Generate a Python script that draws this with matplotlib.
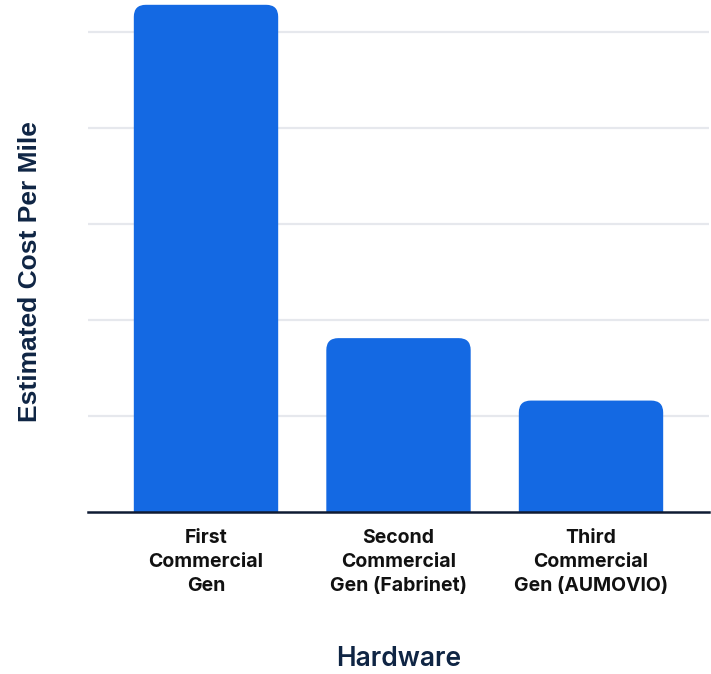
import matplotlib
matplotlib.use("Agg")
import matplotlib.pyplot as plt
from matplotlib.path import Path
from matplotlib.patches import PathPatch

# cost per mile, in gridline units
categories = ["First\nCommercial\nGen", "Second\nCommercial\nGen (Fabrinet)", "Third\nCommercial\nGen (AUMOVIO)"]
cost_per_mile = [5.28, 1.81, 1.16]
grid_ticks = [1, 2, 3, 4, 5]

BAR_COLOR = "#1469E3"
NAVY = "#0F2544"
W, H, DPI = 711, 674, 100


def rounded_top_bar(ax, x, width, height, rx, ry, color):
    left, right = x - width / 2, x + width / 2
    verts = [
        (left, 0), (left, height - ry),
        (left, height), (left + rx, height),
        (right - rx, height),
        (right, height), (right, height - ry),
        (right, 0), (left, 0),
    ]
    codes = [Path.MOVETO, Path.LINETO, Path.CURVE3, Path.CURVE3, Path.LINETO,
             Path.CURVE3, Path.CURVE3, Path.LINETO, Path.CLOSEPOLY]
    ax.add_patch(PathPatch(Path(verts, codes), facecolor=color, edgecolor="none", zorder=2))


fig = plt.figure(figsize=(W / DPI, H / DPI), dpi=DPI)
ax_left, ax_right, ax_top, ax_bottom = 88, 709, 0, 512
ax = fig.add_axes([ax_left / W, (H - ax_bottom) / H, (ax_right - ax_left) / W, (ax_bottom - ax_top) / H])

xlim = (-0.613, 2.613)
ylim = (0, 5.33)
ax.set_xlim(*xlim)
ax.set_ylim(*ylim)

# corner radius in pixels converted to data units on each axis
radius_px = 12
px_per_x = (ax_right - ax_left) / (xlim[1] - xlim[0])
px_per_y = (ax_bottom - ax_top) / (ylim[1] - ylim[0])
bar_width = 0.75
for i, v in enumerate(cost_per_mile):
    rounded_top_bar(ax, i, bar_width, v, radius_px / px_per_x, radius_px / px_per_y, BAR_COLOR)

ax.set_yticks(grid_ticks)
ax.set_yticklabels([])
ax.tick_params(axis="y", length=0)
ax.yaxis.grid(True, color="#E6E8ED", linewidth=1.6, zorder=0)
ax.set_axisbelow(True)

ax.set_xticks(range(len(categories)))
ax.set_xticklabels(categories, fontsize=14, fontweight="bold", family=["Inter", "DejaVu Sans"],
                   color="#111111", linespacing=1.45)
ax.tick_params(axis="x", length=0, pad=12)

for side in ["top", "right", "left"]:
    ax.spines[side].set_visible(False)
ax.spines["bottom"].set_color("#0F1B33")
ax.spines["bottom"].set_linewidth(1.8)
ax.spines["bottom"].set_zorder(3)

fig.text(30 / W, 1 - 272 / H, "Estimated Cost Per Mile", rotation=90, ha="center", va="center",
         fontsize=19, fontweight="bold", family=["Liberation Sans", "DejaVu Sans"], color=NAVY)
fig.text(399 / W, 1 - 659 / H, "Hardware", ha="center", va="center",
         fontsize=19, fontweight="semibold", family=["Inter", "DejaVu Sans"], color=NAVY)

fig.savefig("out.png", dpi=DPI, facecolor="white")
